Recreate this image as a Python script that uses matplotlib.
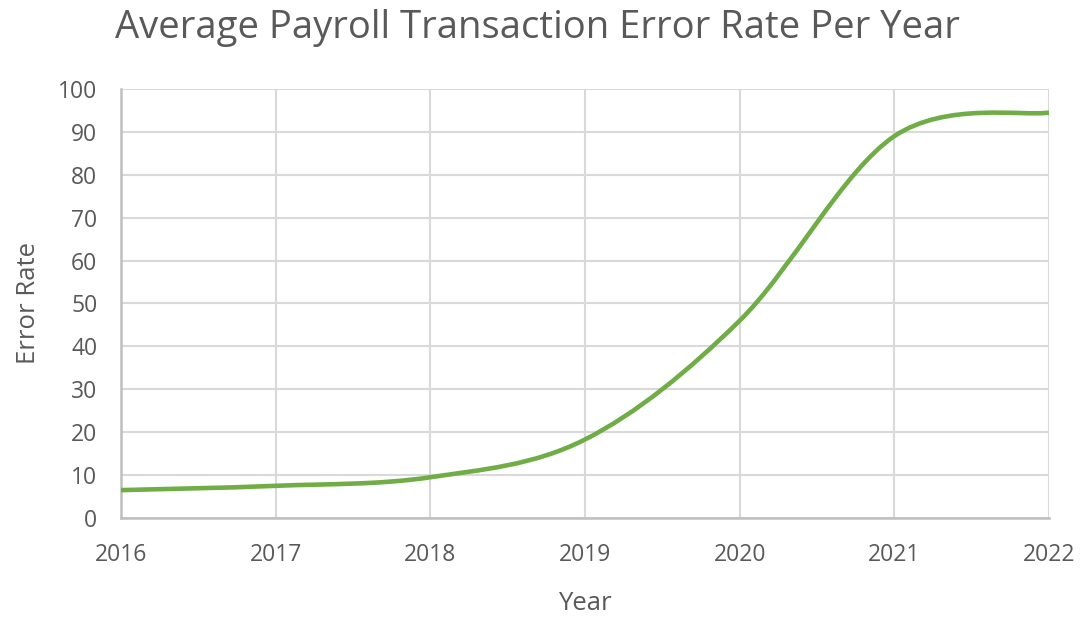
import matplotlib.pyplot as plt
import numpy as np
from matplotlib.path import Path
from matplotlib.patches import PathPatch

years = [2016, 2017, 2018, 2019, 2020, 2021, 2022]
error_rate = [6.5, 7.5, 9.5, 18.3, 46.0, 89.0, 94.5]

plt.rcParams["font.family"] = ["Open Sans", "DejaVu Sans"]
TEXT = "#595959"
GRID = "#d9d9d9"
SPINE = "#bfbfbf"
GREEN = "#70ad47"


def smooth_path(xs, ys):
    # bezier segments, catmull-rom style tangents (like a smoothed office line)
    pts = np.column_stack([xs, ys]).astype(float)
    n = len(pts)
    verts = [pts[0]]
    codes = [Path.MOVETO]
    for i in range(n - 1):
        p0 = pts[max(i - 1, 0)]
        p1 = pts[i]
        p2 = pts[i + 1]
        p3 = pts[min(i + 2, n - 1)]
        c1 = p1 + (p2 - p0) / 6
        c2 = p2 - (p3 - p1) / 6
        verts += [c1, c2, p2]
        codes += [Path.CURVE4] * 3
    return Path(verts, codes)


fig = plt.figure(figsize=(10.81, 6.18), dpi=100)
ax = fig.add_axes([0.1119, 0.1618, 0.8585, 0.6942])

ax.add_patch(PathPatch(smooth_path(years, error_rate), fill=False,
                       edgecolor=GREEN, lw=3.3, capstyle="round", zorder=3))

ax.set_xlim(2016, 2022)
ax.set_ylim(0, 100)
ax.set_xticks(years)
ax.set_yticks(range(0, 101, 10))
ax.grid(True, color=GRID, lw=1.5)
ax.set_axisbelow(True)
for s in ["top", "right"]:
    ax.spines[s].set_visible(False)
for s in ["left", "bottom"]:
    ax.spines[s].set_color(SPINE)
    ax.spines[s].set_linewidth(1.8)
ax.tick_params(length=0, labelsize=16.5, colors=TEXT)
ax.tick_params(axis="y", pad=17)
ax.tick_params(axis="x", pad=18)

ax.set_xlabel("Year", fontsize=18.5, color=TEXT, labelpad=17)
ax.set_ylabel("Error Rate", fontsize=18.5, color=TEXT, labelpad=12)
fig.text(0.497, 0.955, "Average Payroll Transaction Error Rate Per Year",
         ha="center", va="center", fontsize=27.5, color=TEXT)

fig.savefig("out.png", dpi=100)
